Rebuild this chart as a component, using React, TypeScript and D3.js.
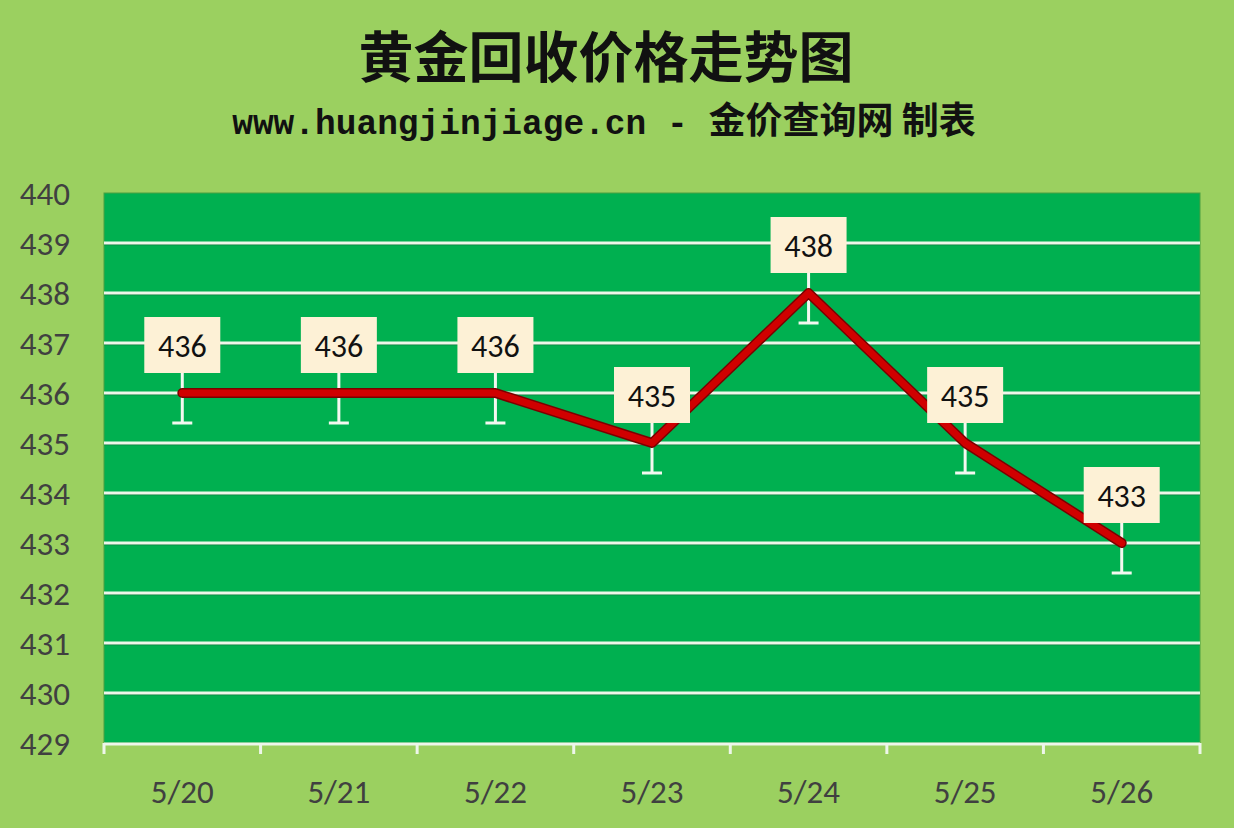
import React from 'react';
import * as d3 from 'd3';

const dates = ['5/20', '5/21', '5/22', '5/23', '5/24', '5/25', '5/26'];
const prices = [436, 436, 436, 435, 438, 435, 433];
const yTicks = [429, 430, 431, 432, 433, 434, 435, 436, 437, 438, 439, 440];
const errorAmount = 0.6;

const title = '黄金回收价格走势图';
const subtitleUrl = 'www.huangjinjiage.cn - ';
const subtitleName = '金价查询网 制表';

const W = 1234;
const H = 828;
const margin = { top: 193, right: 34, bottom: 85, left: 104 };

const App: React.FC = () => {
  const width = W - margin.left - margin.right;
  const height = H - margin.top - margin.bottom;

  const x = d3.scaleBand().domain(dates).range([0, width]);
  const y = d3.scaleLinear().domain([429, 440]).range([height, 0]);

  const cx = (d: string) => (x(d) || 0) + x.bandwidth() / 2;

  const line = d3.line<number>()
    .x((_, i) => cx(dates[i]))
    .y(d => y(d));

  const path = line(prices) || '';
  const labelFont = 'Carlito, Calibri, Lato, "Open Sans", sans-serif';

  return (
    <svg width={W} height={H} style={{ display: 'block', position: 'absolute', left: 0, top: 0 }}>
      <rect x={0} y={0} width={W} height={H} fill="#9bd060" />

      <text x={606} y={77} textAnchor="middle" fontSize={55} fontWeight="bold"
        fontFamily='"Noto Sans CJK SC", serif' fill="#111">{title}</text>
      <text x={604} y={134} textAnchor="middle" fontWeight="bold" fill="#111">
        <tspan fontSize={34.5} fontFamily='"Liberation Mono", "DejaVu Sans Mono", monospace'>{subtitleUrl}</tspan>
        <tspan fontSize={37} fontFamily='"Noto Sans CJK SC", sans-serif'>{subtitleName}</tspan>
      </text>

      <g transform={`translate(${margin.left},${margin.top})`}>
        <rect x={0} y={0} width={width} height={height} fill="#00b050" stroke="#4aa040" strokeWidth={1} />

        {yTicks.slice(1, -1).map(t => (
          <g key={t}>
            <line x1={0} x2={width} y1={y(t) + 1.5} y2={y(t) + 1.5} stroke="#0a7a3a" strokeWidth={1.5} />
            <line x1={0} x2={width} y1={y(t)} y2={y(t)} stroke="#eef6ea" strokeWidth={3} />
          </g>
        ))}
        {/* x axis */}
        <line x1={0} x2={width} y1={height + 1} y2={height + 1} stroke="#eef6ea" strokeWidth={3} />
        {d3.range(dates.length + 1).map(i => (
          <line key={i} x1={i * x.step()} x2={i * x.step()} y1={height} y2={height + 11}
            stroke="#eef6ea" strokeWidth={3} />
        ))}

        {yTicks.map(t => (
          <text key={t} x={-34} y={y(t)} dy="0.35em" textAnchor="end" fontSize={33}
            fontFamily={labelFont} fill="#404040">{t}</text>
        ))}
        {dates.map(d => (
          <text key={d} x={cx(d)} y={height + 48} dy="0.35em" textAnchor="middle" fontSize={33}
            fontFamily={labelFont} fill="#404040">{d}</text>
        ))}

        {/* error bars */}
        {prices.map((p, i) => {
          const xx = cx(dates[i]);
          return (
            <g key={i} stroke="#f4f8f0" strokeWidth={3}>
              <line x1={xx} x2={xx} y1={y(p + errorAmount)} y2={y(p - errorAmount)} />
              <line x1={xx - 10} x2={xx + 10} y1={y(p - errorAmount)} y2={y(p - errorAmount)} />
            </g>
          );
        })}

        <path d={path} fill="none" stroke="#7a0000" strokeWidth={10} strokeLinejoin="round" strokeLinecap="round" />
        <path d={path} fill="none" stroke="#d00000" strokeWidth={7} strokeLinejoin="round" strokeLinecap="round" />

        {prices.map((p, i) => {
          const xx = cx(dates[i]);
          const yy = y(p) - 48;
          return (
            <g key={i}>
              <rect x={xx - 38} y={yy - 28} width={76} height={56} fill="#fdf1d6" />
              <text x={xx} y={yy} dy="0.36em" textAnchor="middle" fontSize={32}
                fontFamily={labelFont} fill="#111">{p}</text>
            </g>
          );
        })}
      </g>
    </svg>
  );
};

export default App;
